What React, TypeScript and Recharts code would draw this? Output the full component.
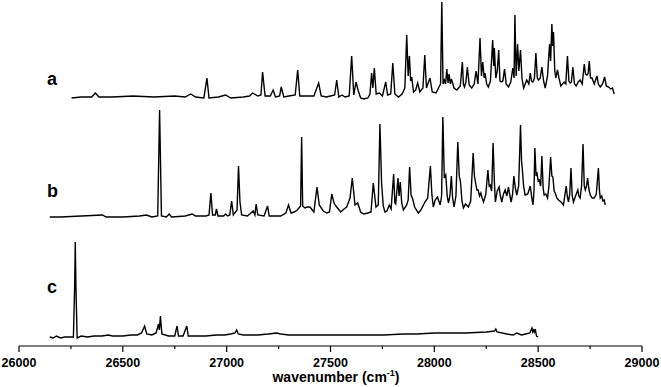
import { LineChart, Line, XAxis, YAxis } from 'recharts'

// stacked spectra: [wavenumber (cm-1), signal incl. vertical offset]
const traceA: [number, number][] = [
  [26253, 248], [26300, 249], [26350, 249], [26368, 253], [26385, 249], [26450, 249],
  [26550, 250], [26650, 249], [26750, 250], [26800, 249], [26827, 252], [26850, 249],
  [26890, 248], [26905, 268], [26915, 248], [26960, 249], [26995, 251], [27020, 248],
  [27080, 249], [27110, 250], [27125, 253], [27150, 250], [27165, 251], [27173, 274],
  [27185, 250], [27210, 250], [27224, 256], [27235, 249], [27255, 250], [27263, 259],
  [27275, 249], [27300, 250], [27330, 251], [27342, 276], [27352, 250], [27380, 250],
  [27420, 250], [27443, 263], [27455, 250], [27480, 249], [27500, 250], [27520, 251],
  [27530, 266], [27540, 249], [27555, 251], [27570, 249], [27590, 250], [27602, 290],
  [27612, 251], [27623, 264], [27634, 255], [27645, 248], [27660, 247], [27680, 248],
  [27690, 252], [27698, 273], [27704, 258], [27711, 278], [27720, 252], [27735, 253],
  [27750, 250], [27766, 264], [27775, 251], [27790, 252], [27800, 283], [27810, 252],
  [27827, 249], [27845, 252], [27858, 258], [27867, 311], [27874, 270], [27880, 290],
  [27886, 265], [27891, 269], [27900, 254], [27910, 256], [27920, 263], [27930, 254],
  [27945, 258], [27954, 291], [27962, 258], [27979, 268], [27990, 254], [28008, 253],
  [28020, 258], [28030, 262], [28036, 344], [28042, 262], [28048, 266], [28054, 262],
  [28060, 277], [28066, 263], [28071, 272], [28077, 262], [28082, 267], [28095, 258],
  [28108, 256], [28125, 260], [28135, 284], [28140, 262], [28145, 259], [28152, 264],
  [28159, 279], [28168, 261], [28180, 258], [28192, 262], [28201, 275], [28210, 262],
  [28220, 308], [28227, 270], [28233, 284], [28240, 268], [28244, 273], [28252, 262],
  [28260, 259], [28270, 265], [28281, 306], [28286, 280], [28289, 298], [28296, 268],
  [28303, 275], [28310, 296], [28316, 265], [28322, 264], [28330, 265], [28338, 277],
  [28346, 262], [28357, 259], [28368, 264], [28378, 278], [28384, 268], [28388, 331],
  [28394, 270], [28401, 302], [28407, 275], [28415, 296], [28422, 268], [28430, 258],
  [28445, 266], [28455, 262], [28462, 273], [28468, 265], [28475, 264], [28482, 268],
  [28489, 293], [28496, 268], [28502, 266], [28510, 268], [28518, 279], [28526, 265],
  [28534, 258], [28545, 270], [28555, 302], [28560, 285], [28566, 322], [28570, 300],
  [28574, 314], [28580, 275], [28585, 268], [28593, 276], [28600, 268], [28609, 260],
  [28625, 264], [28633, 262], [28641, 290], [28648, 265], [28654, 263], [28660, 264],
  [28667, 279], [28675, 262], [28683, 260], [28693, 264], [28702, 266], [28712, 262],
  [28722, 282], [28728, 272], [28735, 271], [28740, 272], [28746, 285], [28752, 268],
  [28759, 268], [28770, 262], [28783, 270], [28790, 262], [28799, 259], [28810, 262],
  [28820, 269], [28828, 260], [28839, 259], [28850, 257], [28858, 258], [28866, 252],
]

const traceB: [number, number][] = [
  [26148, 129], [26200, 129], [26300, 130], [26402, 131], [26420, 129], [26500, 129],
  [26580, 130], [26614, 131], [26640, 129], [26668, 130], [26677, 236], [26686, 130],
  [26710, 129], [26723, 132], [26735, 129], [26800, 130], [26834, 132], [26850, 130],
  [26900, 130], [26915, 131], [26924, 153], [26932, 131], [26945, 131], [26951, 137],
  [26958, 130], [26985, 130], [26995, 132], [27005, 130], [27015, 131], [27024, 145],
  [27032, 131], [27050, 136], [27057, 180], [27064, 144], [27072, 131], [27100, 130],
  [27128, 135], [27136, 131], [27142, 142], [27150, 131], [27180, 130], [27197, 140],
  [27205, 130], [27260, 130], [27285, 133], [27298, 141], [27310, 133], [27325, 134],
  [27340, 136], [27356, 140], [27361, 209], [27366, 140], [27377, 138], [27388, 139], [27401, 139],
  [27420, 134], [27435, 159], [27446, 141], [27465, 135], [27482, 133], [27495, 134],
  [27506, 152], [27517, 143], [27526, 140], [27549, 134], [27565, 137], [27578, 139],
  [27594, 148], [27605, 168], [27618, 141], [27631, 143], [27645, 134], [27660, 132],
  [27680, 133], [27695, 134], [27706, 163], [27719, 139], [27730, 141], [27738, 222],
  [27746, 163], [27754, 140], [27762, 134], [27772, 135], [27783, 141], [27792, 137],
  [27804, 172], [27810, 143], [27814, 142], [27825, 168], [27830, 150], [27836, 164],
  [27843, 143], [27851, 136], [27867, 141], [27874, 146], [27881, 179], [27888, 151],
  [27896, 147], [27905, 139], [27923, 133], [27935, 136], [27945, 140], [27955, 144],
  [27968, 148], [27981, 180], [27988, 152], [27995, 139], [28004, 146], [28015, 149],
  [28028, 141], [28035, 150], [28041, 229], [28048, 168], [28055, 171], [28062, 150],
  [28068, 143], [28075, 150], [28082, 170], [28088, 148], [28095, 139], [28104, 150],
  [28113, 204], [28120, 170], [28126, 164], [28133, 145], [28140, 138], [28150, 142],
  [28164, 139], [28175, 145], [28187, 193], [28193, 170], [28198, 164], [28205, 156],
  [28211, 156], [28218, 150], [28224, 153], [28230, 148], [28237, 144], [28248, 152],
  [28258, 176], [28264, 160], [28269, 161], [28276, 155], [28283, 203], [28289, 165],
  [28294, 144], [28303, 155], [28312, 159], [28318, 150], [28325, 144], [28333, 152],
  [28341, 156], [28349, 150], [28357, 159], [28364, 150], [28370, 144], [28377, 152],
  [28383, 170], [28390, 158], [28397, 151], [28406, 160], [28415, 221], [28420, 185],
  [28424, 176], [28430, 160], [28437, 151], [28450, 152], [28462, 160], [28468, 150],
  [28475, 141], [28480, 155], [28484, 198], [28490, 170], [28494, 174], [28500, 165],
  [28505, 166], [28512, 160], [28518, 190], [28524, 158], [28529, 151], [28537, 152],
  [28545, 148], [28552, 160], [28560, 189], [28566, 170], [28571, 169], [28577, 155],
  [28582, 153], [28590, 148], [28598, 146], [28610, 144], [28622, 141], [28628, 150],
  [28635, 160], [28640, 150], [28646, 144], [28652, 152], [28658, 178], [28664, 150],
  [28670, 144], [28680, 150], [28691, 156], [28696, 150], [28702, 148], [28709, 160],
  [28716, 202], [28722, 160], [28727, 156], [28733, 160], [28738, 168], [28745, 156],
  [28751, 151], [28760, 148], [28770, 148], [28780, 152], [28790, 178], [28795, 156],
  [28799, 148], [28806, 150], [28812, 145], [28818, 146], [28823, 141],
]

const traceC: [number, number][] = [
  [26148, 9], [26165, 8], [26180, 10], [26200, 8], [26220, 9], [26240, 9], [26262, 9],
  [26268, 60], [26271, 104], [26274, 60], [26280, 8], [26300, 10], [26330, 9], [26360, 10],
  [26400, 10], [26430, 11], [26450, 10], [26500, 10], [26540, 11], [26570, 11], [26590, 13],
  [26605, 20], [26615, 12], [26640, 11], [26660, 13], [26672, 22], [26676, 16], [26681, 30],
  [26688, 12], [26720, 10], [26750, 10], [26761, 20], [26768, 10], [26790, 10], [26808, 20],
  [26815, 10], [26850, 10], [26900, 10], [26950, 11], [26990, 11], [27020, 12], [27040, 13],
  [27048, 16], [27056, 12], [27080, 11], [27100, 11], [27150, 11], [27200, 12], [27240, 13],
  [27260, 12], [27300, 11], [27400, 11], [27500, 11], [27600, 11], [27700, 11], [27756, 11],
  [27850, 12], [27915, 12], [28000, 13], [28076, 13], [28150, 13], [28250, 14], [28290, 15],
  [28296, 17], [28302, 14], [28349, 12], [28380, 11], [28397, 13], [28420, 11], [28440, 12],
  [28460, 13], [28470, 18], [28474, 14], [28478, 16], [28482, 14], [28486, 17], [28492, 10],
  [28500, 9],
]

const xTicks = [26000, 26250, 26500, 26750, 27000, 27250, 27500, 27750, 28000, 28250, 28500, 28750, 29000]

const traceLabels = [
  { name: 'a', top: 68 },
  { name: 'b', top: 180 },
  { name: 'c', top: 276 },
]

function buildTable() {
  const rows = new Map<number, Record<string, number>>()
  const add = (key: string, trace: [number, number][]) => {
    trace.forEach(([wn, v]) => {
      const row = rows.get(wn) ?? { wn }
      row[key] = v
      rows.set(wn, row)
    })
  }
  add('a', traceA)
  add('b', traceB)
  add('c', traceC)
  return Array.from(rows.values()).sort((p, q) => p.wn - q.wn)
}

const data = buildTable()
const FONT = '"Liberation Sans", Arial, sans-serif'

function WavenumberTick(props: any) {
  const { x, y, payload } = props
  const major = payload.value % 500 === 0
  return (
    <g>
      <line x1={x} y1={y} x2={x} y2={y + (major ? 6 : 3)} stroke="#000" strokeWidth={1.2} />
      {major && (
        <text x={x} y={y + 21} textAnchor="middle" fontFamily={FONT} fontWeight="bold" fontSize={12.5} fill="#000">
          {payload.value}
        </text>
      )}
    </g>
  )
}

export default function App() {
  return (
    <div style={{ position: 'absolute', left: 0, top: 0, width: 661, height: 387, background: '#fff' }}>
      <LineChart width={661} height={387} data={data} margin={{ top: 0, right: 19, bottom: 0, left: 19 }}>
        <XAxis
          dataKey="wn"
          type="number"
          domain={[26000, 29000]}
          ticks={xTicks}
          interval={0}
          height={41}
          tickSize={0}
          tickMargin={0}
          tickLine={false}
          axisLine={{ stroke: '#000', strokeWidth: 1.2 }}
          tick={<WavenumberTick />}
        />
        <YAxis hide domain={[0, 346]} />
        {['a', 'b', 'c'].map((k) => (
          <Line
            key={k}
            dataKey={k}
            type="linear"
            stroke="#000"
            strokeWidth={1.4}
            dot={false}
            connectNulls
            isAnimationActive={false}
          />
        ))}
      </LineChart>
      {traceLabels.map((l) => (
        <div
          key={l.name}
          style={{ position: 'absolute', left: 47, top: l.top, fontFamily: FONT, fontWeight: 'bold', fontSize: 18, lineHeight: '22px' }}
        >
          {l.name}
        </div>
      ))}
      <div
        style={{ position: 'absolute', left: 0, width: 672, top: 368, textAlign: 'center', fontFamily: FONT, fontWeight: 'bold', fontSize: 14, lineHeight: '18px' }}
      >
        wavenumber (cm<sup style={{ fontSize: 9, verticalAlign: 'super', lineHeight: 0 }}>-1</sup>)
      </div>
    </div>
  )
}
